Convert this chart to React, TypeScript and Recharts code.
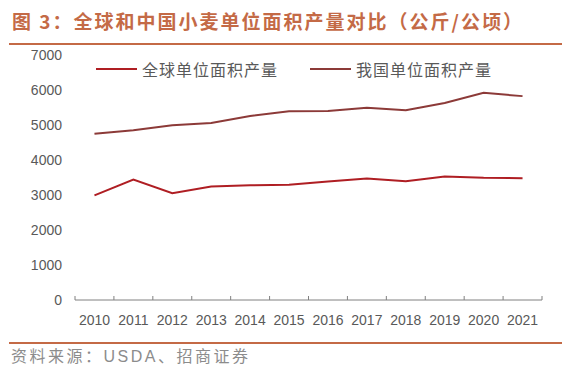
import React from 'react';
import { LineChart, Line, XAxis, YAxis, Legend } from 'recharts';

const years = [2010, 2011, 2012, 2013, 2014, 2015, 2016, 2017, 2018, 2019, 2020, 2021];
const worldYield = [2990, 3440, 3050, 3240, 3280, 3290, 3385, 3470, 3395, 3530, 3490, 3480];
const chinaYield = [4750, 4850, 4990, 5060, 5260, 5395, 5400, 5490, 5420, 5630, 5920, 5825];
const yTicks = [0, 1000, 2000, 3000, 4000, 5000, 6000, 7000];
const seriesNames = ['全球单位面积产量', '我国单位面积产量'];
const titleText = '图 3：全球和中国小麦单位面积产量对比（公斤/公顷）';
const sourceText = '资料来源：USDA、招商证券';

const data = years.map((y, i) => ({ year: y, world: worldYield[i], china: chinaYield[i] }));
const xTicks: number[] = [];
years.forEach((y, i) => {
  xTicks.push(y - 0.5);
  xTicks.push(y);
  if (i === years.length - 1) xTicks.push(y + 0.5);
});

const ACCENT = '#C46A46';
const TEXT = '#595959';
const AXIS = '#808080';
const WORLD = '#AF1E23';
const CHINA = '#8C3A38';
const FONT = '"Liberation Sans", Arial, "Noto Sans CJK SC", sans-serif';
const CJK = '"Noto Sans CJK SC", sans-serif';
const MIXED = '"Liberation Sans", "Noto Sans CJK SC", sans-serif';

const XTick = (props: any) => {
  const { x, y, payload } = props;
  const v = payload.value;
  if (Number.isInteger(v)) {
    return (
      <text x={x} y={y + 25} textAnchor="middle" fill={TEXT} fontSize={14} fontFamily={FONT}>
        {v}
      </text>
    );
  }
  return <line x1={x} x2={x} y1={y} y2={y - 4} stroke={AXIS} strokeWidth={1} />;
};

const legendLefts = [96, 310];

const LegendContent = (props: any) => {
  const { payload } = props;
  return (
    <div style={{ position: 'relative', width: 572, height: 24 }}>
      {(payload || []).map((p: any, i: number) => (
        <div
          key={i}
          style={{
            position: 'absolute',
            left: legendLefts[i],
            top: 0,
            height: 24,
            display: 'flex',
            alignItems: 'center',
            whiteSpace: 'nowrap',
          }}
        >
          <svg width={41} height={4} style={{ display: 'block' }}>
            <line x1={0} x2={41} y1={2} y2={2} stroke={p.color} strokeWidth={2} />
          </svg>
          <span
            style={{
              marginLeft: 5,
              fontSize: 16,
              letterSpacing: 1,
              color: TEXT,
              fontFamily: CJK,
              lineHeight: '24px',
            }}
          >
            {p.value}
          </span>
        </div>
      ))}
    </div>
  );
};

export default function App() {
  return (
    <div style={{ position: 'absolute', left: 0, top: 0, width: 572, height: 390, background: '#fff', overflow: 'hidden' }}>
      <div
        style={{
          position: 'absolute',
          left: 12,
          top: 8,
          height: 26,
          lineHeight: '26px',
          fontSize: 19,
          fontWeight: 'bold',
          letterSpacing: 2,
          color: ACCENT,
          fontFamily: CJK,
          whiteSpace: 'nowrap',
        }}
      >
        {titleText}
      </div>
      <div style={{ position: 'absolute', left: 9, top: 43, width: 553, height: 2, background: ACCENT }} />
      <div style={{ position: 'absolute', left: 0, top: 0 }}>
        <LineChart width={572} height={390} data={data} margin={{ top: 55, right: 30, bottom: 60, left: 0 }}>
          <XAxis
            dataKey="year"
            type="number"
            domain={[years[0] - 0.5, years[years.length - 1] + 0.5]}
            ticks={xTicks}
            interval={0}
            tickLine={false}
            tickSize={0}
            tickMargin={0}
            axisLine={{ stroke: AXIS, strokeWidth: 1 }}
            tick={<XTick />}
            height={30}
            allowDataOverflow
          />
          <YAxis
            domain={[0, 7000]}
            ticks={yTicks}
            interval={0}
            width={75}
            axisLine={false}
            tickLine={false}
            tickSize={0}
            tickMargin={13}
            tick={{ fill: TEXT, fontSize: 14, fontFamily: FONT }}
          />
          <Legend
            layout="vertical"
            verticalAlign="middle"
            align="center"
            wrapperStyle={{ position: 'absolute', top: 57, left: 0, width: 572, height: 24 }}
            content={<LegendContent />}
          />
          <Line
            type="linear"
            dataKey="world"
            name={seriesNames[0]}
            stroke={WORLD}
            strokeWidth={2}
            dot={false}
            isAnimationActive={false}
          />
          <Line
            type="linear"
            dataKey="china"
            name={seriesNames[1]}
            stroke={CHINA}
            strokeWidth={2}
            dot={false}
            isAnimationActive={false}
          />
        </LineChart>
      </div>
      <div style={{ position: 'absolute', left: 9, top: 342, width: 553, height: 2, background: ACCENT }} />
      <div
        style={{
          position: 'absolute',
          left: 11,
          top: 346,
          height: 22,
          lineHeight: '22px',
          fontSize: 16,
          letterSpacing: 2.5,
          color: '#8C8C8C',
          fontFamily: MIXED,
          whiteSpace: 'nowrap',
        }}
      >
        {sourceText}
      </div>
    </div>
  );
}
